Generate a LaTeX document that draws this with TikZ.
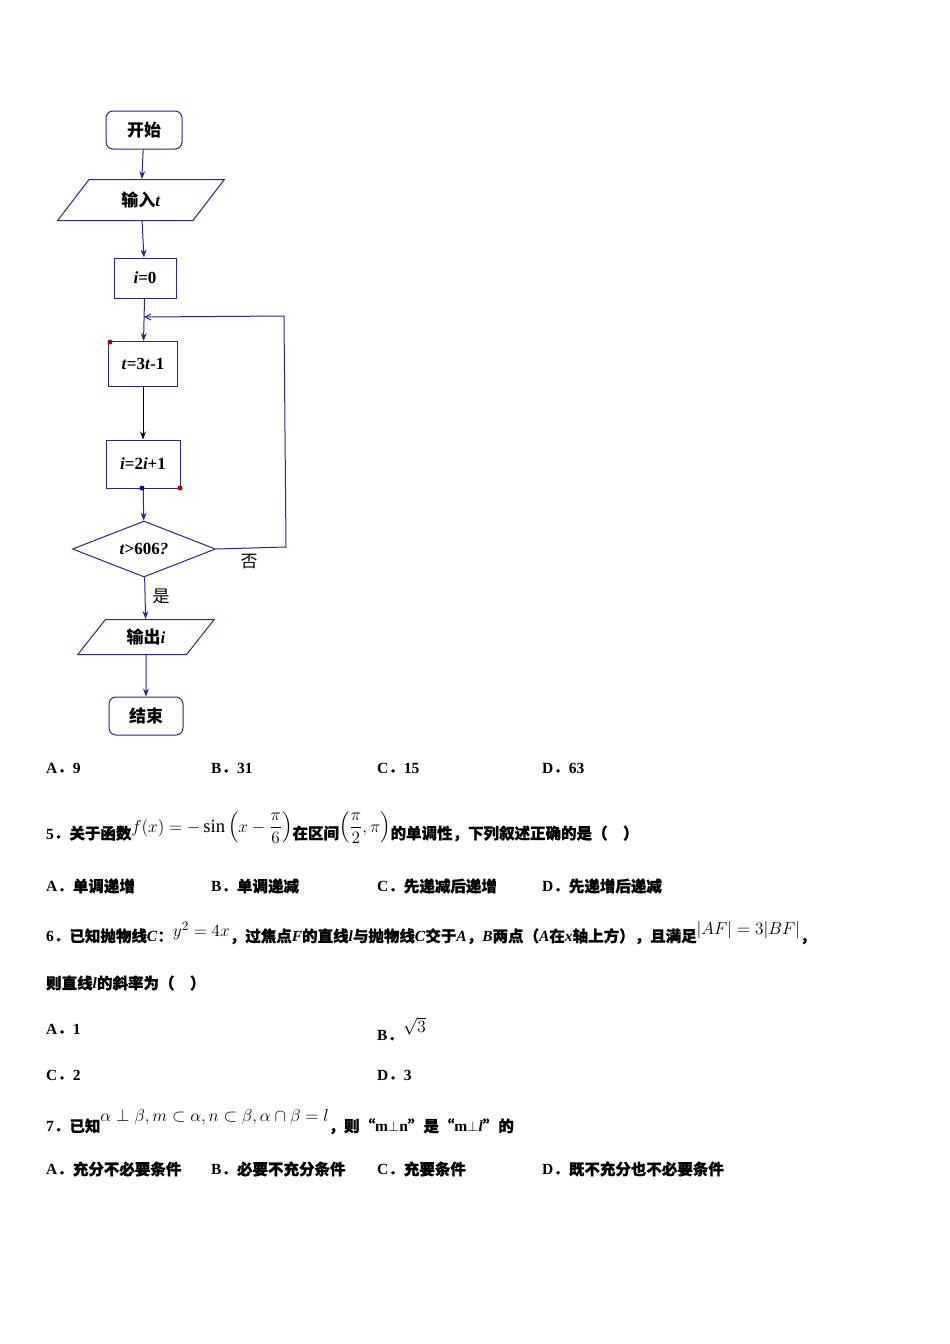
\documentclass[tikz,border=0pt]{standalone}
\usepackage{amsmath}
\usepackage{graphicx}
\usepackage{fontspec}
\setmainfont{Liberation Serif}
\newfontfamily\cjk{Noto Sans CJK SC}[FakeBold=0.6]
\newfontfamily\cjkl{Noto Sans CJK SC}
\newcommand{\z}[1]{{\cjk #1}}
\newcommand{\pd}{{\cjk ．}}
\newcommand{\mth}[2]{\raisebox{#1}{\mdseries\scalebox{1.2}{#2}}}
\usetikzlibrary{shapes.geometric,arrows.meta}
\begin{document}
\begin{tikzpicture}[x=1pt,y=-1pt,
  fc/.style={draw={rgb,255:red,40;green,40;blue,140},line width=1pt,font=\fontsize{17}{20}\selectfont\bfseries,inner sep=0pt},
  rbox/.style={fc,rounded corners=7pt,minimum width=76pt,minimum height=38pt},
  pbox/.style={fc,rectangle},
  para/.style={fc,trapezium,trapezium left angle=#1,trapezium right angle=180-#1,trapezium stretches=true},
  dia/.style={fc,diamond,aspect=2.55,minimum width=143pt,minimum height=56pt},
  ar/.style={draw={rgb,255:red,40;green,40;blue,140},line width=1pt,-{Stealth[length=8pt,width=6pt]}},
  ln/.style={draw={rgb,255:red,40;green,40;blue,140},line width=1pt},
  tx/.style={anchor=west,inner sep=0pt,font=\fontsize{15.5}{18}\selectfont\bfseries},
  lab/.style={inner sep=0pt,font=\fontsize{17}{18}\selectfont\cjkl}]
\useasboundingbox (0,0) rectangle (950,1344);
\fill[white] (0,0) rectangle (950,1344);
\node[rbox] (s) at (144,130) {{\cjkl 开始}};
\node[para=54,minimum width=167pt,minimum height=41pt] (in) at (141,200) {{\cjkl 输入}\textit{t}};
\node[pbox,minimum width=62pt,minimum height=40pt] (i0) at (145,278) {\textit{i}=0};
\node[pbox,minimum width=69pt,minimum height=45pt] (t3) at (143,364) {\textit{t}=3\textit{t}-1};
\node[pbox,minimum width=74pt,minimum height=48pt] (i2) at (143,464) {\textit{i}=2\textit{i}+1};
\node[dia] (d) at (144,549) {\textit{t}>606\textit{?}};
\node[para=51,minimum width=137pt,minimum height=35pt] (out) at (146,637) {{\cjkl 输出}\textit{i}};
\node[rbox,minimum width=74pt] (e) at (146,716) {{\cjkl 结束}};
\coordinate (m) at (144,317);
\coordinate (c1) at (286,547);
\coordinate (c2) at (284,316);
\draw[ar] (s) -- (in);
\draw[ar] (in) -- (i0);
\draw[ar] (i0) -- (t3);
\draw[ar,draw=black] (t3) -- (i2);
\draw[ar] (i2) -- (d);
\draw[ar] (d) -- (out);
\draw[ar] (out) -- (e);
\draw[ln,-{Straight Barb[open,length=6pt,width=6pt]}] (d.east) -- (c1) -- (c2) -- (m);
\fill[red!70!black] (110,342) circle (2.5pt) (180,488) circle (2.5pt);
\fill[blue!60!black] (142,488) circle (2.5pt);
\node[lab] (no) at (249,562) {否};
\node[lab] (yes) at (161,596) {是};
% question texts
\node[tx] (a4) at (46,768) {A\pd 9};
\node[tx] (b4) at (211,768) {B\pd 31};
\node[tx] (c4) at (377,768) {C\pd 15};
\node[tx] (d4) at (542,768) {D\pd 63};
\node[tx] (q5) at (46,828) {5\pd\z{关于函数}\mth{7pt}{$f(x)=-\sin\left(x-\dfrac{\pi}{6}\right)$}\z{在区间}\mth{7pt}{$\left(\dfrac{\pi}{2},\pi\right)$}\z{的单调性，下列叙述正确的是（\quad）}};
\node[tx] (a5) at (46,886) {A\pd\z{单调递增}};
\node[tx] (b5) at (211,886) {B\pd\z{单调递减}};
\node[tx] (c5) at (377,886) {C\pd\z{先递减后递增}};
\node[tx] (d5) at (542,886) {D\pd\z{先递增后递减}};
\node[tx] (q6) at (46,933) {6\pd\z{已知抛物线}\textit{C}\z{：}\mth{5pt}{$y^2=4x$}\z{，过焦点}\textit{F}\z{的直线}\textit{l}\z{与抛物线}\textit{C}\z{交于}\textit{A}\z{，}\textit{B}\z{两点（}\textit{A}\z{在}\textit{x}\z{轴上方），且满足}\mth{7pt}{$|AF|=3|BF|$}\z{，}};
\node[tx] (q6b) at (46,983) {\z{则直线}\textit{l}\z{的斜率为（\quad）}};
\node[tx] (a6) at (46,1029) {A\pd 1};
\node[tx] (b6) at (377,1029) {B\pd\mth{8pt}{$\sqrt{3}$}};
\node[tx] (c6) at (46,1075) {C\pd 2};
\node[tx] (d6) at (377,1075) {D\pd 3};
\node[tx] (q7) at (46,1122) {7\pd\z{已知}\mth{10pt}{$\alpha\perp\beta,m\subset\alpha,n\subset\beta,\alpha\cap\beta=l$}\z{，则“}m$\perp$n\z{”是“}m$\perp$\textit{l}\z{”的}};
\node[tx] (a7) at (46,1169) {A\pd\z{充分不必要条件}};
\node[tx] (b7) at (211,1169) {B\pd\z{必要不充分条件}};
\node[tx] (c7) at (377,1169) {C\pd\z{充要条件}};
\node[tx] (d7) at (542,1169) {D\pd\z{既不充分也不必要条件}};
\end{tikzpicture}
\end{document}
